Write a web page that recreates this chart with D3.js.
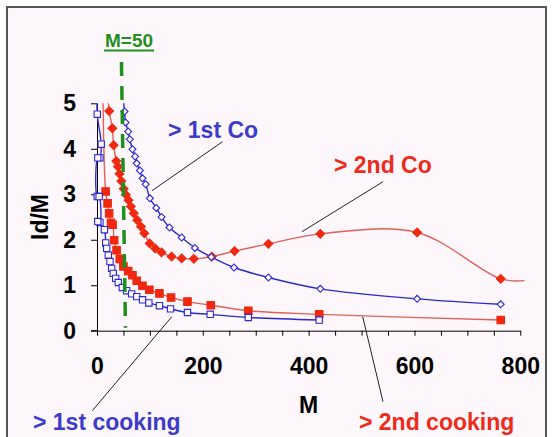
<!DOCTYPE html>
<html><head><meta charset="utf-8">
<script src="https://cdn.jsdelivr.net/npm/d3@7"></script>
<style>body{margin:0;background:#fff}svg{display:block;font-family:"Liberation Sans",Arial,sans-serif}</style>
</head><body><svg id="c" width="552" height="437"></svg>
<script>
// ---- data ----
const xTickLabels = [0, 200, 400, 600, 800];
const xMinorTicks = d3.range(0, 801, 50);
const yTickLabels = [0, 1, 2, 3, 4, 5];

// "> 1st Co" (open blue diamonds)
const co1X = [47, 52, 54, 59, 62, 67, 72, 75, 81, 86, 92, 100, 112, 122, 137, 160, 185, 216, 259, 324, 422, 605, 763];
const co1Y = [5.4, 4.82, 4.58, 4.38, 4.21, 3.99, 3.83, 3.68, 3.52, 3.35, 3.22, 2.91, 2.70, 2.50, 2.27, 2.05, 1.82, 1.62, 1.39, 1.17, 0.92, 0.70, 0.58];
// "> 2nd Co" (filled red diamonds)
const co2X = [19, 23, 29, 31.5, 36.5, 39.5, 42.5, 46, 50.5, 54.5, 59.5, 64, 69.5, 76, 83, 89.5, 99.5, 110, 122, 141, 160, 183, 217, 260, 324, 422, 605, 763, 808];
const co2Y = [5.4, 4.83, 4.45, 4.08, 3.73, 3.61, 3.45, 3.29, 3.12, 2.99, 2.87, 2.73, 2.58, 2.43, 2.29, 2.14, 1.92, 1.81, 1.72, 1.63, 1.59, 1.58, 1.63, 1.75, 1.91, 2.13, 2.16, 1.14, 1.10];
// "> 1st cooking" (open blue squares)
const cook1X = [0.5, 0.5, 8, 5.5, 1.5, 0.5, 4, 5.5, 1.5, 14, 16.4, 18.3, 21.4, 24.5, 27.7, 30.8, 35.3, 40.2, 47.8, 56, 65.5, 75, 86, 98, 118, 139, 171, 214, 286, 420];
const cook1Y = [5.4, 4.76, 4.10, 3.80, 3.80, 2.95, 2.95, 2.38, 2.40, 2.22, 1.93, 1.81, 1.66, 1.52, 1.37, 1.26, 1.15, 1.06, 0.95, 0.88, 0.81, 0.75, 0.68, 0.61, 0.55, 0.48, 0.40, 0.36, 0.29, 0.235];
// "> 2nd cooking" (filled red squares)
const cook2X = [11, 16.3, 20, 23, 26.5, 29.5, 32.5, 37, 43, 50, 59, 67, 75, 86, 99, 118, 140, 171, 215, 286, 420, 763];
const cook2Y = [5.4, 3.06, 2.80, 2.58, 2.37, 2.33, 1.99, 1.77, 1.58, 1.41, 1.31, 1.22, 1.10, 0.99, 0.90, 0.82, 0.73, 0.64, 0.56, 0.44, 0.36, 0.235];

const markerM = 50;

// ---- drawing ----
const svg = d3.select("#c");
svg.append("rect").attr("x", 7).attr("y", 7).attr("width", 539).attr("height", 445)
  .attr("fill", "#fdf6fb").attr("stroke", "#555").attr("stroke-width", 2);

const x = d3.scaleLinear().domain([0, 800]).range([97, 520.3]);
const y = d3.scaleLinear().domain([0, 5]).range([330.7, 103.3]);
const FONT = "Liberation Sans, Arial, sans-serif";

// x axis
const xAxis = d3.axisBottom(x).tickValues(xMinorTicks).tickSize(5).tickSizeOuter(0).tickPadding(22)
  .tickFormat(d => xTickLabels.includes(d) ? d3.format("d")(d) : "");
const gx = svg.append("g").attr("transform", `translate(0,${y(0)})`).call(xAxis);
gx.attr("font-family", FONT);
gx.selectAll("text").attr("font-size", 23).attr("font-weight", "bold").attr("fill", "#000");
gx.selectAll("line,path").attr("stroke", "#000");

// y axis
const yAxis = d3.axisLeft(y).tickValues(yTickLabels).tickFormat(d3.format("d")).tickSize(6).tickSizeOuter(0).tickPadding(15);
const gy = svg.append("g").attr("transform", `translate(${x(0)},0)`).call(yAxis);
gy.attr("font-family", FONT);
gy.selectAll("text").attr("font-size", 23).attr("font-weight", "bold").attr("fill", "#000");
gy.selectAll("line,path").attr("stroke", "#000");
svg.append("line").attr("x1", x(0) - 6).attr("x2", x(0)).attr("y1", y(0)).attr("y2", y(0)).attr("stroke", "#000");

// axis titles
svg.append("text").attr("x", (x(0) + x(800)) / 2).attr("y", 413).attr("text-anchor", "middle")
  .attr("font-size", 23).attr("font-weight", "bold").text("M");
svg.append("text").attr("transform", "translate(48,217) rotate(-90)").attr("text-anchor", "middle")
  .attr("font-size", 23).attr("font-weight", "bold").text("Id/M");

// clip
svg.append("clipPath").attr("id", "plot").append("rect")
  .attr("x", 90).attr("y", y(5)).attr("width", 445).attr("height", 240);

const line = d3.line().x(d => x(d[0])).y(d => y(d[1])).curve(d3.curveCatmullRom.alpha(0.5));
const zip = (a, b) => a.map((v, i) => [v, b[i]]);
const visible = d => d[1] <= 5 && d[0] <= 800;

const series = [
  {pts: zip(cook2X, cook2Y), line: "#e0605a", fill: "#f02810", stroke: "#f02810", rot: 0, size: 56},
  {pts: zip(co2X, co2Y), line: "#e0605a", fill: "#f02810", stroke: "#f02810", rot: 45, size: 38},
  {pts: zip(cook1X, cook1Y), line: "#2a2ad0", fill: "#fdf6fb", stroke: "#2a2ad0", rot: 0, size: 40},
  {pts: zip(co1X, co1Y), line: "#2a2ad0", fill: "#fdf6fb", stroke: "#2a2ad0", rot: 45, size: 24},
];
const gp = svg.append("g").attr("clip-path", "url(#plot)");
series.forEach(s => {
  gp.append("path").attr("d", line(s.pts)).attr("fill", "none").attr("stroke", s.line).attr("stroke-width", 1.4);
});
series.forEach(s => {
  gp.selectAll(null).data(s.pts.filter(visible)).enter().append("path")
    .attr("transform", d => `translate(${x(d[0])},${y(d[1])}) rotate(${s.rot})`)
    .attr("d", d3.symbol().type(d3.symbolSquare).size(s.size))
    .attr("fill", s.fill).attr("stroke", s.stroke).attr("stroke-width", 1.1);
});

// M=50 marker line
svg.append("line").attr("x1", x(markerM) - 2).attr("x2", x(markerM) + 2)
  .attr("y1", 62).attr("y2", y(0) - 3)
  .attr("stroke", "#1f8f1f").attr("stroke-width", 3.5).attr("stroke-dasharray", "14,10");
svg.append("text").attr("x", 129).attr("y", 47).attr("text-anchor", "middle")
  .attr("font-size", 19).attr("font-weight", "bold").attr("fill", "#1f8f1f").text("M=" + markerM);
svg.append("line").attr("x1", 104).attr("x2", 154).attr("y1", 50.5).attr("y2", 50.5)
  .attr("stroke", "#1f8f1f").attr("stroke-width", 2);

// labels with leader lines
const labels = [
  {t: "> 1st Co", x: 168, y: 138, c: "#3c3cc8", l: [222.5, 141.7, 152, 190.7]},
  {t: "> 2nd Co", x: 334, y: 173, c: "#ee2a1a", l: [383, 181.7, 302, 231.7]},
  {t: "> 1st cooking", x: 33, y: 430, c: "#3c3cc8", l: [92.3, 410.7, 171.8, 316.7]},
  {t: "> 2nd cooking", x: 359, y: 430, c: "#ee2a1a", l: [383, 401.7, 362.7, 316.7]},
];
labels.forEach(o => {
  svg.append("line").attr("x1", o.l[0]).attr("y1", o.l[1]).attr("x2", o.l[2]).attr("y2", o.l[3])
    .attr("stroke", "#222").attr("stroke-width", 1);
  svg.append("text").attr("x", o.x).attr("y", o.y).attr("font-size", 23).attr("font-weight", "bold")
    .attr("fill", o.c).text(o.t);
});
</script></body></html>
